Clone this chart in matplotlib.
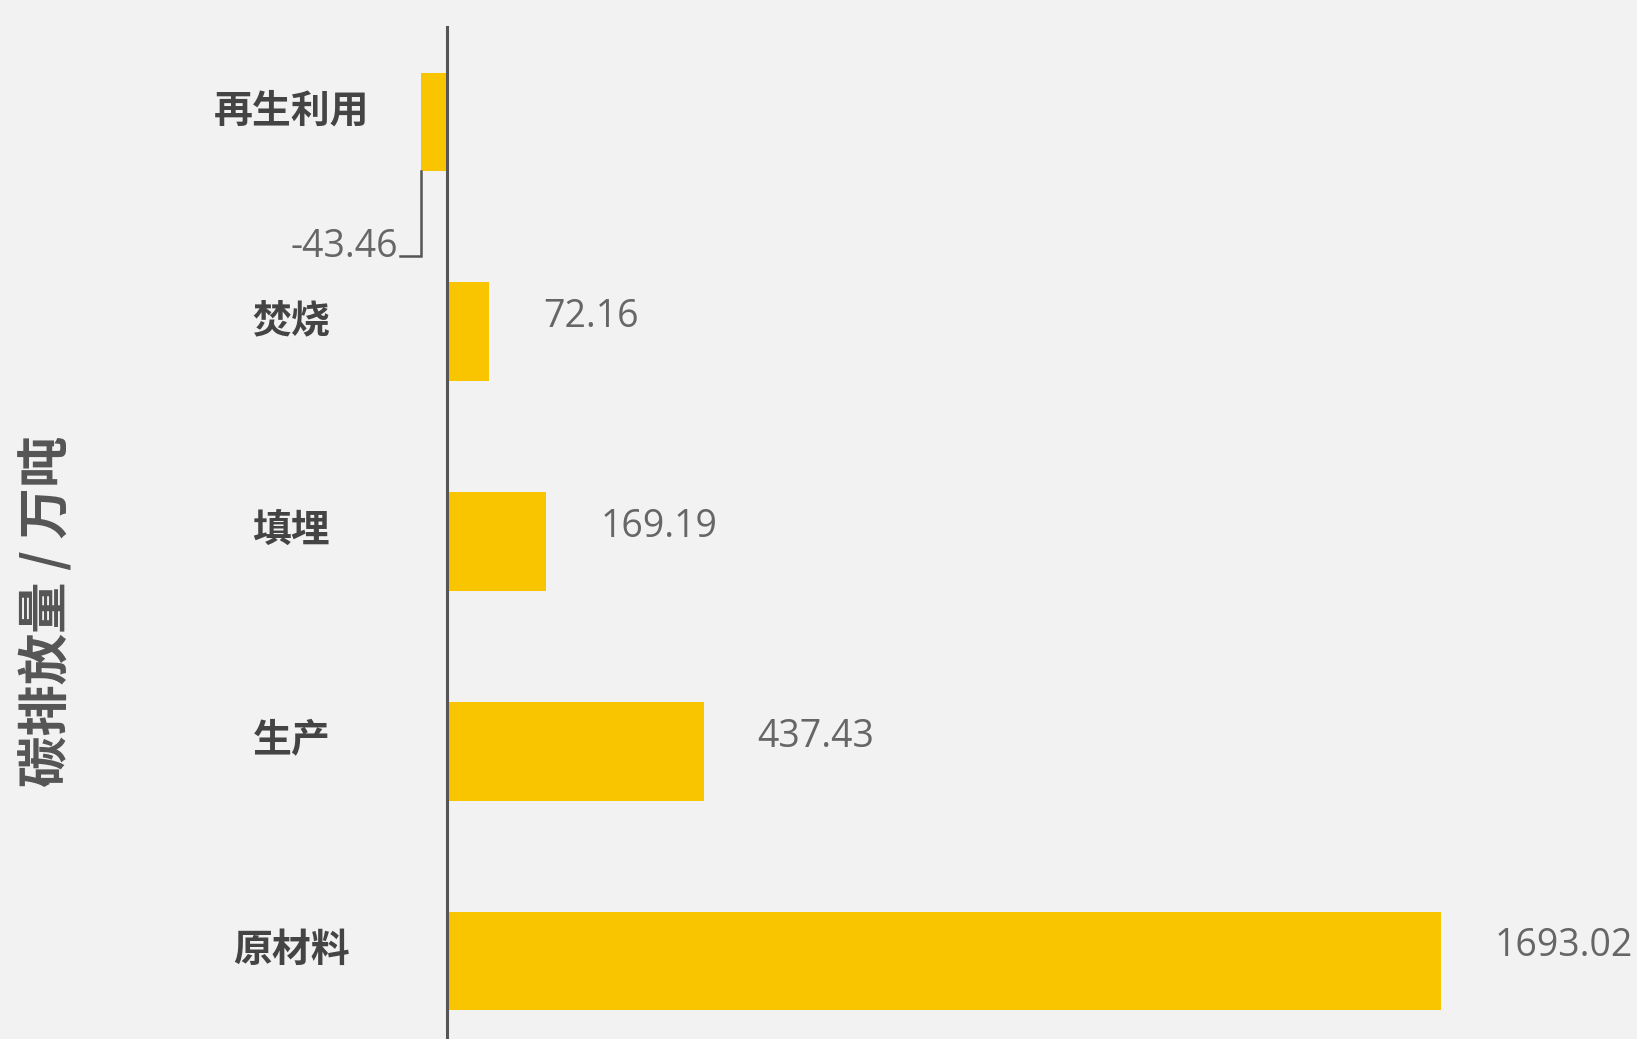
import matplotlib.pyplot as plt

# 各环节碳排放量（万吨）
categories = ['再生利用', '焚烧', '填埋', '生产', '原材料']
values = [-43.46, 72.16, 169.19, 437.43, 1693.02]
value_labels = ['-43.46', '72.16', '169.19', '437.43', '1693.02']

BG = '#F2F2F2'
BAR = '#F8C500'
AXIS = '#555555'

fig = plt.figure(figsize=(16.37, 10.39), dpi=100, facecolor=BG)
top_px = 27
ax = fig.add_axes([0, 0, 1, (1039 - top_px) / 1039])
ax.set_facecolor(BG)

pos = list(range(len(categories)))
bar_h = 0.47
ax.barh(pos, values, height=bar_h, color=BAR, zorder=2)

ax.set_xlim(-761, 2027)
ax.set_ylim(4.372, -(122 - top_px) / 209.7)

for s in ['top', 'right', 'bottom']:
    ax.spines[s].set_visible(False)
ax.spines['left'].set_position(('data', 0))
ax.spines['left'].set_color(AXIS)
ax.spines['left'].set_linewidth(2.2)
ax.spines['left'].set_zorder(3)
ax.set_xticks([])
ax.set_yticks([])

# 类别名称
for i, name in enumerate(categories):
    ax.text(-265, i - 0.05, name, ha='center', va='center', fontsize=28,
            fontweight='bold', color='#444444', family=['Noto Sans CJK SC', 'DejaVu Sans'])

# 数值标注
for i, (v, lab) in enumerate(zip(values, value_labels)):
    if v >= 0:
        ax.text(v + 92, i - 0.07, lab, ha='left', va='center', fontsize=27,
                color='#666666', family=['Open Sans', 'DejaVu Sans'])
    else:
        # 负值：从柱底引出折线，标签放在左下方
        y_end = i + 0.64
        ax.plot([v, v, v - 36], [i + bar_h / 2, y_end, y_end], color=AXIS, lw=1.8,
                solid_joinstyle='miter', zorder=2)
        ax.text(v - 40, y_end + 0.005, lab, ha='right', va='baseline', fontsize=27,
                color='#666666', family=['Open Sans', 'DejaVu Sans'])

fig.text(47 / 1637, 1 - 611 / 1039, '碳排放量 / 万吨', rotation=90, ha='center', va='center',
         fontsize=37, fontweight='bold', color='#555555',
         family=['Noto Sans CJK SC', 'DejaVu Sans'])

fig.savefig('out.png', dpi=100, facecolor=BG)
